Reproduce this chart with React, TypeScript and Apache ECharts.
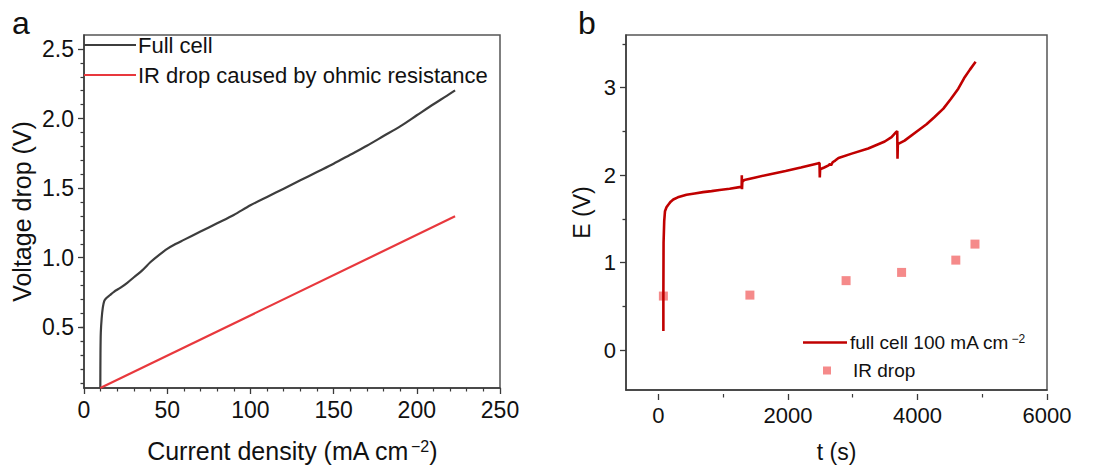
import React, { useEffect, useRef } from "react";
import * as echarts from "echarts";

// ---- Panel a: polarization data ----
const fullCellI = [9.8, 9.9, 10.1, 10.6, 11.3, 12.2, 13.5, 15.5, 18, 22, 26, 30, 35, 40, 45, 50, 55, 60, 70, 80, 90, 100, 110, 120, 130, 140, 150, 160, 170, 180, 190, 200, 210, 218, 223];
const fullCellV = [0.05, 0.3, 0.45, 0.55, 0.63, 0.68, 0.7, 0.72, 0.745, 0.775, 0.81, 0.85, 0.9, 0.96, 1.01, 1.055, 1.09, 1.12, 1.18, 1.24, 1.3, 1.37, 1.43, 1.49, 1.55, 1.61, 1.67, 1.735, 1.8, 1.87, 1.94, 2.02, 2.1, 2.16, 2.2];
const irLineI = [9.8, 223];
const irLineV = [0.05, 1.29];

// ---- Panel b: chronopotentiometry data ----
const fullCellT = [77, 77, 80, 90, 102, 125, 153, 190, 230, 300, 434, 560, 689, 820, 944, 1100, 1276, 1286, 1288, 1291, 1296, 1327, 1500, 1709, 1964, 2200, 2474, 2488, 2492, 2497, 2560, 2628, 2650, 2665, 2690, 2730, 2781, 2985, 3240, 3495, 3600, 3673, 3688, 3692, 3697, 3801, 4005, 4140, 4260, 4400, 4515, 4630, 4719, 4810, 4898];
const fullCellE = [0.18, 0.6, 1.2, 1.45, 1.565, 1.61, 1.64, 1.675, 1.7, 1.725, 1.755, 1.77, 1.785, 1.797, 1.81, 1.825, 1.846, 1.85, 1.98, 1.82, 1.905, 1.925, 1.955, 1.99, 2.03, 2.07, 2.12, 2.12, 1.955, 2.05, 2.07, 2.095, 2.11, 2.095, 2.13, 2.15, 2.18, 2.23, 2.29, 2.37, 2.42, 2.48, 2.49, 2.17, 2.34, 2.38, 2.495, 2.57, 2.65, 2.75, 2.86, 2.98, 3.1, 3.2, 3.29];
const irDropT = [77, 1413, 2898, 3755, 4592, 4888];
const irDropE = [0.585, 0.596, 0.763, 0.858, 1.0, 1.185];

// ---- Axis ranges and tick steps ----
const aX = { min: 0, max: 250, step: 50, minorSplit: 5 };
const aY = { min: 0.05, max: 2.6, firstMajor: 0.5, lastMajor: 2.5, step: 0.5, minorStep: 0.1 };
const bX = { min: -500, max: 6000, firstMajor: 0, lastMajor: 6000, step: 2000 };
const bY = { min: -0.5, max: 3.6, firstMajor: 0, lastMajor: 3, step: 1 };

const FONT = "Liberation Sans, Arial, sans-serif";
const AX = "#3a3a3a";
const zip = (a: number[], b: number[]) => a.map((v, i) => [v, b[i]]);

// plot boxes (pixels)
const boxA = { left: 84, top: 35, right: 500, bottom: 390 };
const boxB = { left: 626, top: 35, right: 1047, bottom: 394 };
const W = 1100, H = 468;

// sub-grid whose y range [lo, hi] lines up with the box's scale [min, max]
function ySubGrid(box: any, min: number, max: number, lo: number, hi: number) {
  const k = (box.bottom - box.top) / (max - min);
  return { left: box.left, right: W - box.right, top: box.bottom - (hi - min) * k, bottom: H - (box.bottom - (lo - min) * k), show: false };
}
function xSubGrid(box: any, min: number, max: number, lo: number, hi: number) {
  const k = (box.right - box.left) / (max - min);
  return { top: box.top, bottom: H - box.bottom, left: box.left + (lo - min) * k, right: W - (box.left + (hi - min) * k), show: false };
}

const hiddenAxis = (gridIndex: number) => ({ type: "value", gridIndex, show: false, min: 0, max: 1 });
const lineOnly = (gridIndex: number, min: number, max: number, extra: any) => ({
  type: "value", gridIndex, min, max,
  splitLine: { show: false },
  axisLine: { show: true, onZero: false, lineStyle: { color: AX, width: 1.5 } },
  axisTick: { show: false },
  axisLabel: { show: false },
  ...extra,
});
const tickAxis = (gridIndex: number, min: number, max: number, interval: number, len: number, minorSplit: number, labels: any) => ({
  type: "value", gridIndex, min, max, interval,
  splitLine: { show: false },
  minorSplitLine: { show: false },
  axisLine: { show: false, onZero: false },
  axisTick: { show: true, inside: false, length: len, lineStyle: { color: AX, width: 1.3 } },
  minorTick: { show: minorSplit > 0, splitNumber: minorSplit || 5, length: 3.5, lineStyle: { color: AX, width: 1.2 } },
  axisLabel: labels ? { show: true, color: "#111", fontFamily: FONT, margin: 10, ...labels } : { show: false },
});

export default function App() {
  const ref = useRef<HTMLDivElement>(null);
  useEffect(() => {
    if (!ref.current) return;
    const chart = echarts.init(ref.current, undefined, { renderer: "svg" });
    const grids = [
      { left: boxA.left, top: boxA.top, right: W - boxA.right, bottom: H - boxA.bottom, show: true, borderColor: "#555", borderWidth: 1.5, backgroundColor: "transparent" }, // 0
      { left: boxB.left, top: boxB.top, right: W - boxB.right, bottom: H - boxB.bottom, show: true, borderColor: "#555", borderWidth: 1.5, backgroundColor: "transparent" }, // 1
      ySubGrid(boxA, aY.min, aY.max, aY.firstMajor, aY.lastMajor), // 2: a y majors
      ySubGrid(boxA, aY.min, aY.max, aY.minorStep, aY.firstMajor), // 3: a y low minors
      xSubGrid(boxB, bX.min, bX.max, bX.firstMajor, bX.lastMajor), // 4: b x ticks
      ySubGrid(boxB, bY.min, bY.max, bY.firstMajor, bY.lastMajor), // 5: b y majors
      ySubGrid(boxB, bY.min, bY.max, bY.firstMajor + bY.step / 2, bY.lastMajor + bY.step / 2), // 6: b y minors
    ];
    const option: any = {
      animation: false,
      backgroundColor: "#ffffff",
      textStyle: { fontFamily: FONT },
      title: [
        { text: "a", left: 7, top: 2, textStyle: { fontFamily: FONT, fontSize: 32, fontWeight: "normal", color: "#111" } },
        { text: "b", left: 573, top: 2, textStyle: { fontFamily: FONT, fontSize: 32, fontWeight: "normal", color: "#111" } },
      ],
      grid: grids,
      xAxis: [
        // 0: panel a x (ticks + labels)
        {
          ...tickAxis(0, aX.min, aX.max, aX.step, 6, aX.minorSplit, { fontSize: 23, formatter: (v: number) => String(v) }),
          axisLine: { show: true, onZero: false, lineStyle: { color: AX, width: 1.5 } },
          name: "Current density (mA cm{sup|−2})",
          nameLocation: "middle",
          nameGap: 50,
          nameTextStyle: { fontFamily: FONT, fontSize: 25, color: "#111", rich: { sup: { fontSize: 16, verticalAlign: "top", fontFamily: FONT, color: "#111", padding: [0, 0, 0, 2] } } },
        },
        // 1: panel b x line + name
        lineOnly(1, bX.min, bX.max, {
          name: "t (s)", nameLocation: "middle", nameGap: 50,
          nameTextStyle: { fontFamily: FONT, fontSize: 23, color: "#111" },
        }),
        hiddenAxis(2),
        hiddenAxis(3),
        // 4: panel b x ticks + labels
        tickAxis(4, bX.firstMajor, bX.lastMajor, bX.step, 6, 2, { fontSize: 22, formatter: (v: number) => String(v) }),
        hiddenAxis(5),
        hiddenAxis(6),
      ],
      yAxis: [
        lineOnly(0, aY.min, aY.max, {
          name: "Voltage drop (V)", nameLocation: "middle", nameGap: 50,
          nameTextStyle: { fontFamily: FONT, fontSize: 25, color: "#111" },
        }),
        lineOnly(1, bY.min, bY.max, {
          name: "E (V)", nameLocation: "middle", nameGap: 33,
          nameTextStyle: { fontFamily: FONT, fontSize: 23, color: "#111" },
        }),
        tickAxis(2, aY.firstMajor, aY.lastMajor, aY.step, 6, 5, { fontSize: 23, formatter: (v: number) => v.toFixed(1) }),
        tickAxis(3, aY.minorStep, aY.firstMajor, aY.minorStep, 3.5, 0, null),
        hiddenAxis(4),
        tickAxis(5, bY.firstMajor, bY.lastMajor, bY.step, 6, 0, { fontSize: 22, formatter: (v: number) => String(v) }),
        tickAxis(6, bY.firstMajor + bY.step / 2, bY.lastMajor + bY.step / 2, bY.step, 3.5, 0, null),
      ],
      legend: [
        {
          data: ["Full cell", "IR drop caused by ohmic resistance"],
          orient: "vertical",
          left: 84,
          top: 33,
          icon: "rect",
          itemWidth: 52,
          itemHeight: 2.2,
          itemGap: 6,
          padding: 0,
          textStyle: { fontFamily: FONT, fontSize: 22, color: "#111", padding: [0, 0, 0, -3], lineHeight: 24 },
        },
        {
          data: ["full cell 100 mA cm−2"],
          left: 803,
          top: 333,
          icon: "rect",
          itemWidth: 44,
          itemHeight: 2.6,
          padding: 0,
          formatter: () => "full cell 100 mA cm{sup|−2}",
          textStyle: {
            fontFamily: FONT,
            fontSize: 19,
            color: "#111",
            padding: [0, 0, 0, -2],
            rich: { sup: { fontSize: 12, verticalAlign: "top", fontFamily: FONT, color: "#111", padding: [0, 0, 0, 2] } },
          },
        },
        {
          data: ["IR drop"],
          left: 823,
          top: 361,
          icon: "rect",
          itemWidth: 8,
          itemHeight: 8,
          padding: 0,
          textStyle: { fontFamily: FONT, fontSize: 19, color: "#111", padding: [0, 0, 0, 17] },
        },
      ],
      series: [
        {
          name: "Full cell",
          type: "line",
          xAxisIndex: 0,
          yAxisIndex: 0,
          data: zip(fullCellI, fullCellV),
          symbol: "none",
          smooth: 0.3,
          lineStyle: { color: "#3d3d3d", width: 2.2 },
          itemStyle: { color: "#3d3d3d" },
        },
        {
          name: "IR drop caused by ohmic resistance",
          type: "line",
          xAxisIndex: 0,
          yAxisIndex: 0,
          data: zip(irLineI, irLineV),
          symbol: "none",
          lineStyle: { color: "#e8383d", width: 2.2 },
          itemStyle: { color: "#e8383d" },
        },
        {
          name: "full cell 100 mA cm−2",
          type: "line",
          xAxisIndex: 1,
          yAxisIndex: 1,
          data: zip(fullCellT, fullCellE),
          symbol: "none",
          lineStyle: { color: "#c00000", width: 2.6 },
          itemStyle: { color: "#c00000" },
        },
        {
          name: "IR drop",
          type: "scatter",
          xAxisIndex: 1,
          yAxisIndex: 1,
          data: zip(irDropT, irDropE),
          symbol: "rect",
          symbolSize: 9,
          itemStyle: { color: "#f26d6d" },
        },
      ],
    };
    chart.setOption(option);
    return () => chart.dispose();
  }, []);
  return <div ref={ref} style={{ position: "fixed", left: 0, top: 0, width: W, height: H }} />;
}
